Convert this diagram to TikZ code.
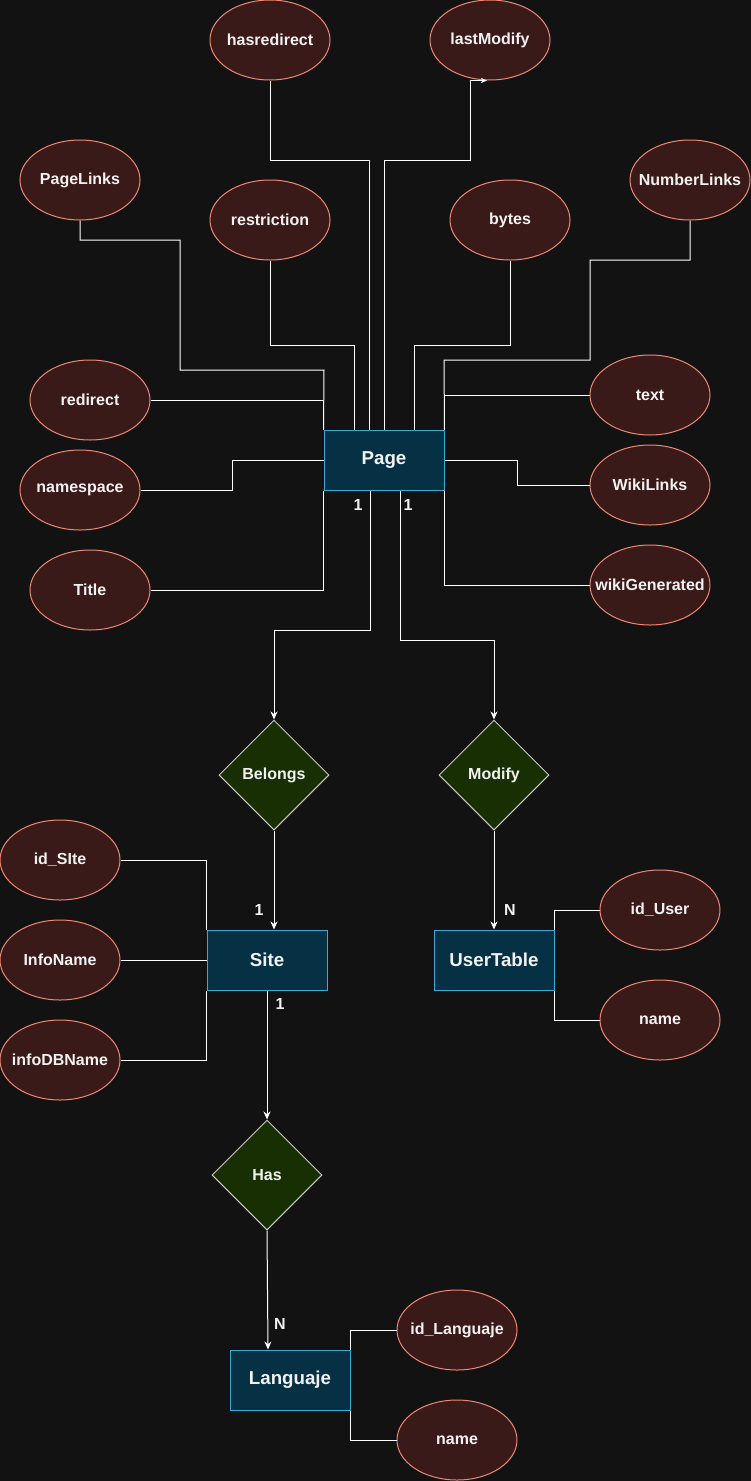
\documentclass[tikz,border=0pt]{standalone}
\usepackage{fontspec}
\setmainfont{Liberation Sans}
\usetikzlibrary{shapes.geometric,arrows.meta}

\definecolor{bgc}{HTML}{121212}
\definecolor{attrfill}{HTML}{3A1A18}
\definecolor{attrline}{HTML}{EE8874}
\definecolor{entfill}{HTML}{063145}
\definecolor{entline}{HTML}{3BA9DC}
\definecolor{relfill}{HTML}{172F02}
\definecolor{relline}{HTML}{C8C8C8}
\definecolor{txt}{HTML}{F2F2F2}

% zero-width label so the ellipse keeps its fixed size
\newcommand{\attrtext}[1]{\makebox[0pt][c]{#1}}

\tikzset{
  attr/.style={ellipse, draw=attrline, fill=attrfill, line width=1pt,
    minimum width=120pt, minimum height=80pt, inner sep=0pt,
    text=txt, font=\fontsize{16}{19}\selectfont\bfseries},
  entity/.style={rectangle, draw=entline, fill=entfill, line width=1pt,
    minimum width=120pt, minimum height=60pt, inner sep=0pt,
    text=txt, font=\fontsize{18.7}{22}\selectfont\bfseries},
  rel/.style={diamond, draw=relline, fill=relfill, line width=1pt,
    minimum width=110pt, minimum height=110pt, inner sep=0pt, shape aspect=1,
    text=txt, font=\fontsize{16}{19}\selectfont\bfseries},
  conn/.style={draw=white, line width=1pt},
  arr/.style={conn, -{Stealth[length=8pt,width=7pt,inset=2.5pt]}},
  tinyarr/.style={conn, -{Stealth[length=6pt,width=5pt,inset=1.5pt]}},
  card/.style={text=txt, inner sep=0pt, font=\fontsize{16}{19}\selectfont\bfseries}
}

\begin{document}
\begin{tikzpicture}[x=1pt,y=-1pt]
  % canvas
  \fill[bgc] (0,0) rectangle (751,1481);
  \useasboundingbox (0,0) rectangle (751,1481);

  % entities
  \node[entity] (pg) at (384,460) {Page};
  \node[entity] (si) at (267,960) {Site};
  \node[entity] (ut) at (494,960) {UserTable};
  \node[entity] (la) at (290,1380) {Languaje};

  % relationships
  \node[rel] (be) at (274,775) {\attrtext{Belongs}};
  \node[rel] (mo) at (494,775) {\attrtext{Modify}};
  \node[rel] (ha) at (267,1175) {\attrtext{Has}};

  % attributes of Page
  \node[attr] (hr) at (270,40) {\attrtext{hasredirect}};
  \node[attr] (lm) at (490,40) {\attrtext{lastModify}};
  \node[attr] (pl) at (80,180) {\attrtext{PageLinks}};
  \node[attr] (rs) at (270,220) {\attrtext{restriction}};
  \node[attr] (by) at (510,220) {\attrtext{bytes}};
  \node[attr] (nl) at (690,180) {\attrtext{NumberLinks}};
  \node[attr] (rd) at (90,400) {\attrtext{redirect}};
  \node[attr] (ns) at (80,490) {\attrtext{namespace}};
  \node[attr] (ti) at (90,590) {\attrtext{Title}};
  \node[attr] (tx) at (650,395) {\attrtext{text}};
  \node[attr] (wl) at (650,485) {\attrtext{WikiLinks}};
  \node[attr] (wg) at (650,585) {\attrtext{wikiGenerated}};

  % attributes of Site
  \node[attr] (is) at (60,860) {\attrtext{id\_SIte}};
  \node[attr] (in) at (60,960) {\attrtext{InfoName}};
  \node[attr] (idb) at (60,1060) {\attrtext{infoDBName}};

  % attributes of UserTable
  \node[attr] (iu) at (660,910) {\attrtext{id\_User}};
  \node[attr] (un) at (660,1020) {\attrtext{name}};

  % attributes of Languaje
  \node[attr] (il) at (457,1330) {\attrtext{id\_Languaje}};
  \node[attr] (ln) at (457,1440) {\attrtext{name}};

  % Page attribute links
  \draw[conn] (hr.south) |- (369,160) -- ([xshift=-15pt]pg.north);
  \draw[conn] (pg.north) -- (384,160) -| (470,80.5) -- (476,80.5);
  \draw[tinyarr] (476,80.5) -- ([xshift=-3pt]lm.south);
  \draw[conn] (pl.south) |- (180,240) |- (324,370) -- (pg.north west);
  \draw[conn] (rd.east) -| (pg.north west);
  \draw[conn] (rs.south) |- (354,345) -- ([xshift=-30pt]pg.north);
  \draw[conn] (by.south) |- (414,345) -- ([xshift=30pt]pg.north);
  \draw[conn] (nl.south) |- (590,260) |- (444,360) -- (pg.north east);
  \draw[conn] (tx.west) -| (pg.north east);
  \draw[conn] (ns.east) -| (232,460) -- (pg.west);
  \draw[conn] (ti.east) -| (pg.south west);
  \draw[conn] (pg.east) -| (517,485) -- (wl.west);
  \draw[conn] (pg.south east) |- (wg.west);

  % relationships
  \draw[arr] ([xshift=-14pt]pg.south) |- (274,630) -- (be.north);
  \draw[arr] ([xshift=16pt]pg.south) |- (494,640) -- (mo.north);
  \draw[arr] (be.south) -- ([xshift=7pt]si.north);
  \draw[arr] (mo.south) -- (ut.north);
  \draw[arr] (si.south) -- (ha.north);
  \draw[arr] (ha.south) -- ([xshift=-22pt]la.north);

  % cardinalities
  \node[card] (c1) at (358,505) {1};
  \node[card] (c2) at (408,505) {1};
  \node[card] (c3) at (259,910) {1};
  \node[card] (c4) at (510,910) {N};
  \node[card] (c5) at (280,1004) {1};
  \node[card] (c6) at (280,1324) {N};

  % Site attribute links
  \draw[conn] (is.east) -| (si.north west);
  \draw[conn] (in.east) -- (si.west);
  \draw[conn] (idb.east) -| (si.south west);

  % UserTable attribute links
  \draw[conn] (iu.west) -| (ut.north east);
  \draw[conn] (un.west) -| (ut.south east);

  % Languaje attribute links
  \draw[conn] (il.west) -| (la.north east);
  \draw[conn] (ln.west) -| (la.south east);
\end{tikzpicture}
\end{document}
